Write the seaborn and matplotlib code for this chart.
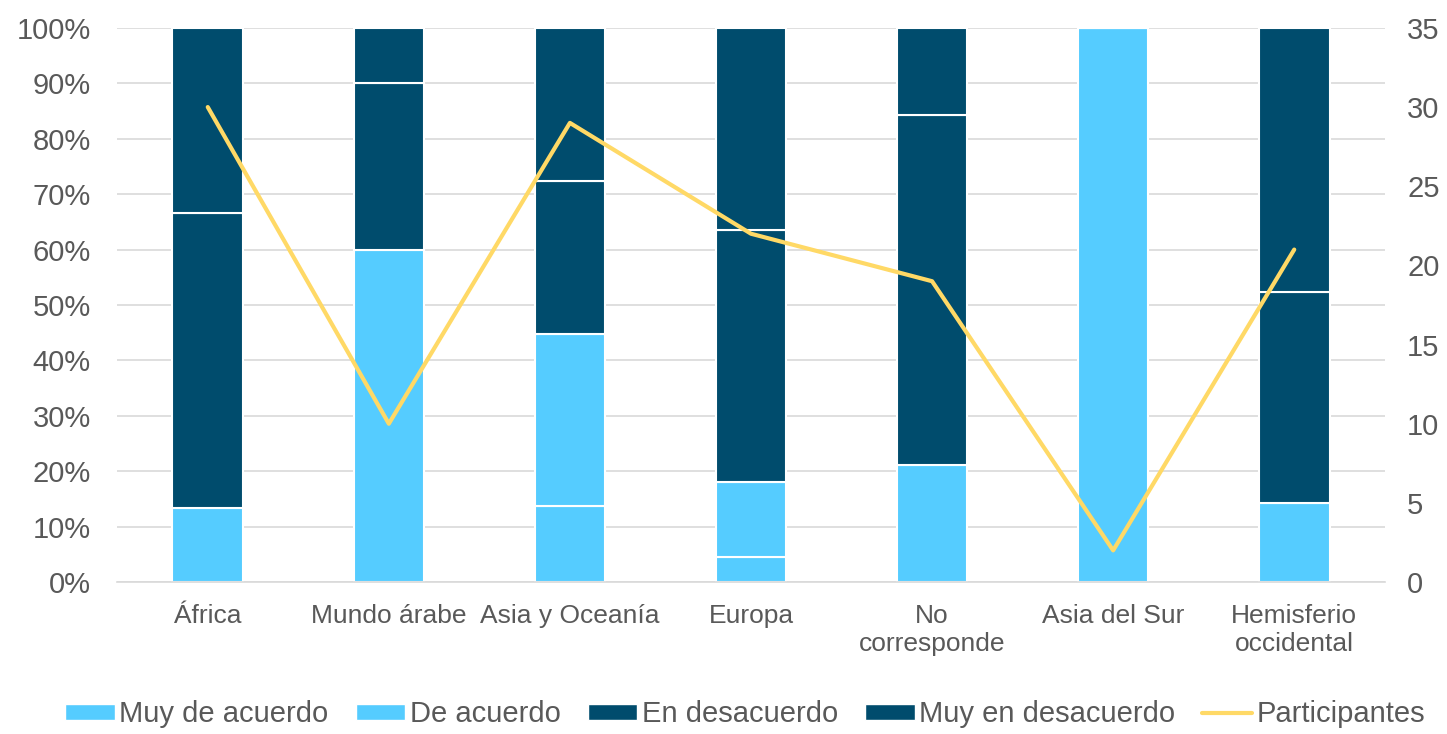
import matplotlib
matplotlib.use("Agg")
import matplotlib.pyplot as plt
import seaborn as sns
import numpy as np
import pandas as pd
from matplotlib.patches import Patch
from matplotlib.lines import Line2D

# datos
regiones = ["África", "Mundo árabe", "Asia y Oceanía", "Europa",
            "No\ncorresponde", "Asia del Sur", "Hemisferio\noccidental"]
muy_de_acuerdo = [0.0, 0.0, 13.8, 4.5, 0.0, 0.0, 0.0]
de_acuerdo = [13.3, 60.0, 31.0, 13.6, 21.1, 100.0, 14.3]
en_desacuerdo = [53.3, 30.0, 27.6, 45.5, 63.2, 0.0, 38.1]
muy_en_desacuerdo = [33.4, 10.0, 27.6, 36.4, 15.7, 0.0, 47.6]
participantes = [30, 10, 29, 22, 19, 2, 21]

series = ["Muy de acuerdo", "De acuerdo", "En desacuerdo", "Muy en desacuerdo"]
valores = [muy_de_acuerdo, de_acuerdo, en_desacuerdo, muy_en_desacuerdo]
colores = ["#55CCFF", "#55CCFF", "#004C6D", "#004C6D"]
amarillo = "#FFD966"
gris = "#595959"

sns.set_style("white")
plt.rcParams["font.family"] = ["Liberation Sans", "DejaVu Sans"]

fig, ax = plt.subplots(figsize=(14.47, 7.34), dpi=100)
fig.subplots_adjust(left=0.081, right=0.957, top=0.962, bottom=0.207)

df = pd.DataFrame({"region": regiones})
base = np.zeros(len(regiones))
for nombre, vals, col in zip(series, valores, colores):
    df["v"] = vals
    sns.barplot(data=df, x="region", y="v", color=col, width=0.39,
                bottom=base, edgecolor="white", linewidth=1.5,
                saturation=1, ax=ax)
    base = base + np.array(vals)

ax.set_ylim(0, 100)
ax.set_xlim(-0.5, 6.5)
ax.set_yticks(np.arange(0, 101, 10))
ax.set_yticklabels([f"{v}%" for v in range(0, 101, 10)])
ax.yaxis.grid(True, color="#D9D9D9", linewidth=1.2)
ax.set_axisbelow(True)
ax.set_xlabel("")
ax.set_ylabel("")
for s in ["top", "right", "left"]:
    ax.spines[s].set_visible(False)
ax.spines["bottom"].set_color("#D9D9D9")
ax.spines["bottom"].set_linewidth(1.2)
ax.tick_params(axis="y", labelsize=21, colors=gris, length=0, pad=19)
ax.tick_params(axis="x", labelsize=19, colors=gris, length=0, pad=16)

ax2 = ax.twinx()
sns.lineplot(x=np.arange(len(regiones)), y=participantes, color=amarillo,
             linewidth=3, ax=ax2)
ax2.set_ylim(0, 35)
ax2.set_yticks(range(0, 36, 5))
ax2.tick_params(axis="y", labelsize=21, colors=gris, length=0, pad=16)
for s in ax2.spines.values():
    s.set_visible(False)
ax2.set_ylabel("")

handles = [Patch(facecolor=c) for c in colores] + \
          [Line2D([0], [0], color=amarillo, linewidth=3)]
etiquetas = series + ["Participantes"]
fig.legend(handles, etiquetas, loc="lower center", ncol=5, frameon=False,
           fontsize=21, labelcolor=gris, bbox_to_anchor=(0.515, -0.028),
           handlelength=1.7, handleheight=0.5, handletextpad=0.15,
           columnspacing=0.93)

fig.savefig("out.png", dpi=100)
